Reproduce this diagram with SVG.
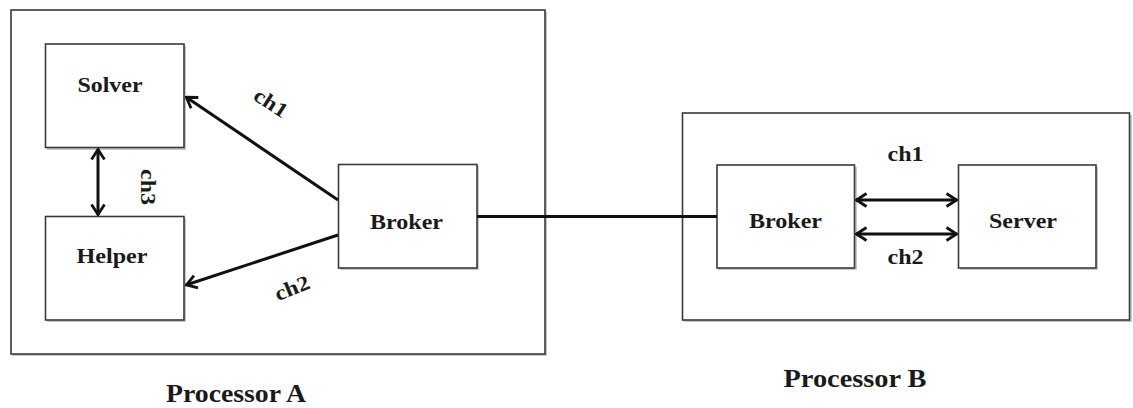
<svg xmlns="http://www.w3.org/2000/svg" width="1133" height="408" viewBox="0 0 1133 408">
<style>
.box{fill:#fff;stroke:#3a3a3a;stroke-width:1.6}
.shadow{fill:#9a9a9a;opacity:0.55}
.lbl{font-family:"Liberation Serif","DejaVu Serif",serif;font-weight:bold;fill:#1a1a1a}
.node{font-size:21px}
.ch{font-size:21px}
.title{font-size:25px}
.conn{stroke:#111;stroke-width:3;fill:none}
</style>
<defs>
<marker id="ah" viewBox="0 0 13 16" refX="12" refY="8" markerWidth="13" markerHeight="16" markerUnits="userSpaceOnUse" orient="auto-start-reverse">
<path d="M1.5,1.5 L11.5,8 L1.5,14.5" fill="none" stroke="#111" stroke-width="2.8" stroke-linejoin="miter"/>
</marker>
</defs>
<rect width="1133" height="408" fill="#fff"/>
<g id="processorA">
<rect class="shadow" x="12" y="12" width="535" height="344"/>
<rect class="box" x="11" y="10" width="534" height="344"/>
<text class="lbl title" x="236" y="402" text-anchor="middle" textLength="140" lengthAdjust="spacingAndGlyphs">Processor A</text>
</g>
<g id="processorB">
<rect class="shadow" x="684" y="115" width="448" height="207"/>
<rect class="box" x="682.5" y="113" width="447" height="207"/>
<text class="lbl title" x="855" y="387" text-anchor="middle" textLength="143" lengthAdjust="spacingAndGlyphs">Processor B</text>
</g>
<g id="solver">
<rect class="shadow" x="47" y="46" width="139" height="104"/>
<rect class="box" x="45.5" y="44" width="138.5" height="103.5"/>
<text class="lbl node" x="110" y="92" text-anchor="middle" textLength="65" lengthAdjust="spacingAndGlyphs">Solver</text>
</g>
<g id="helper">
<rect class="shadow" x="47" y="218" width="139" height="104"/>
<rect class="box" x="45.5" y="216.5" width="138.5" height="103.5"/>
<text class="lbl node" x="112" y="263" text-anchor="middle" textLength="71" lengthAdjust="spacingAndGlyphs">Helper</text>
</g>
<g id="brokerA">
<rect class="shadow" x="340" y="166" width="139" height="104"/>
<rect class="box" x="338.5" y="164.5" width="138.5" height="103.5"/>
<text class="lbl node" x="406.5" y="229" text-anchor="middle" textLength="73" lengthAdjust="spacingAndGlyphs">Broker</text>
</g>
<g id="brokerB">
<rect class="shadow" x="718" y="167" width="139" height="103"/>
<rect class="box" x="717" y="165" width="137.5" height="103"/>
<text class="lbl node" x="785.5" y="228" text-anchor="middle" textLength="73" lengthAdjust="spacingAndGlyphs">Broker</text>
</g>
<g id="server">
<rect class="shadow" x="960" y="167" width="138" height="103"/>
<rect class="box" x="958.5" y="165" width="137.5" height="103"/>
<text class="lbl node" x="1023" y="228" text-anchor="middle" textLength="68" lengthAdjust="spacingAndGlyphs">Server</text>
</g>
<g id="connectors">
<line class="conn" x1="338" y1="200" x2="186" y2="97" marker-end="url(#ah)"/>
<line class="conn" x1="338" y1="235" x2="186" y2="285" marker-end="url(#ah)"/>
<line class="conn" x1="98" y1="149" x2="98" y2="215" marker-start="url(#ah)" marker-end="url(#ah)"/>
<line class="conn" x1="477" y1="216.5" x2="717" y2="216.5"/>
<line class="conn" x1="856" y1="200" x2="957" y2="200" marker-start="url(#ah)" marker-end="url(#ah)"/>
<line class="conn" x1="856" y1="234" x2="957" y2="234" marker-start="url(#ah)" marker-end="url(#ah)"/>
<text class="lbl ch" transform="translate(271,103) rotate(33)" text-anchor="middle" dy="7" textLength="36" lengthAdjust="spacingAndGlyphs">ch1</text>
<text class="lbl ch" transform="translate(292,288) rotate(-22)" text-anchor="middle" dy="7" textLength="36" lengthAdjust="spacingAndGlyphs">ch2</text>
<text class="lbl ch" transform="translate(148,187) rotate(90)" text-anchor="middle" dy="7" textLength="36" lengthAdjust="spacingAndGlyphs">ch3</text>
<text class="lbl ch" x="905.5" y="161" text-anchor="middle" textLength="36" lengthAdjust="spacingAndGlyphs">ch1</text>
<text class="lbl ch" x="905.5" y="264" text-anchor="middle" textLength="36" lengthAdjust="spacingAndGlyphs">ch2</text>
</g>
</svg>
